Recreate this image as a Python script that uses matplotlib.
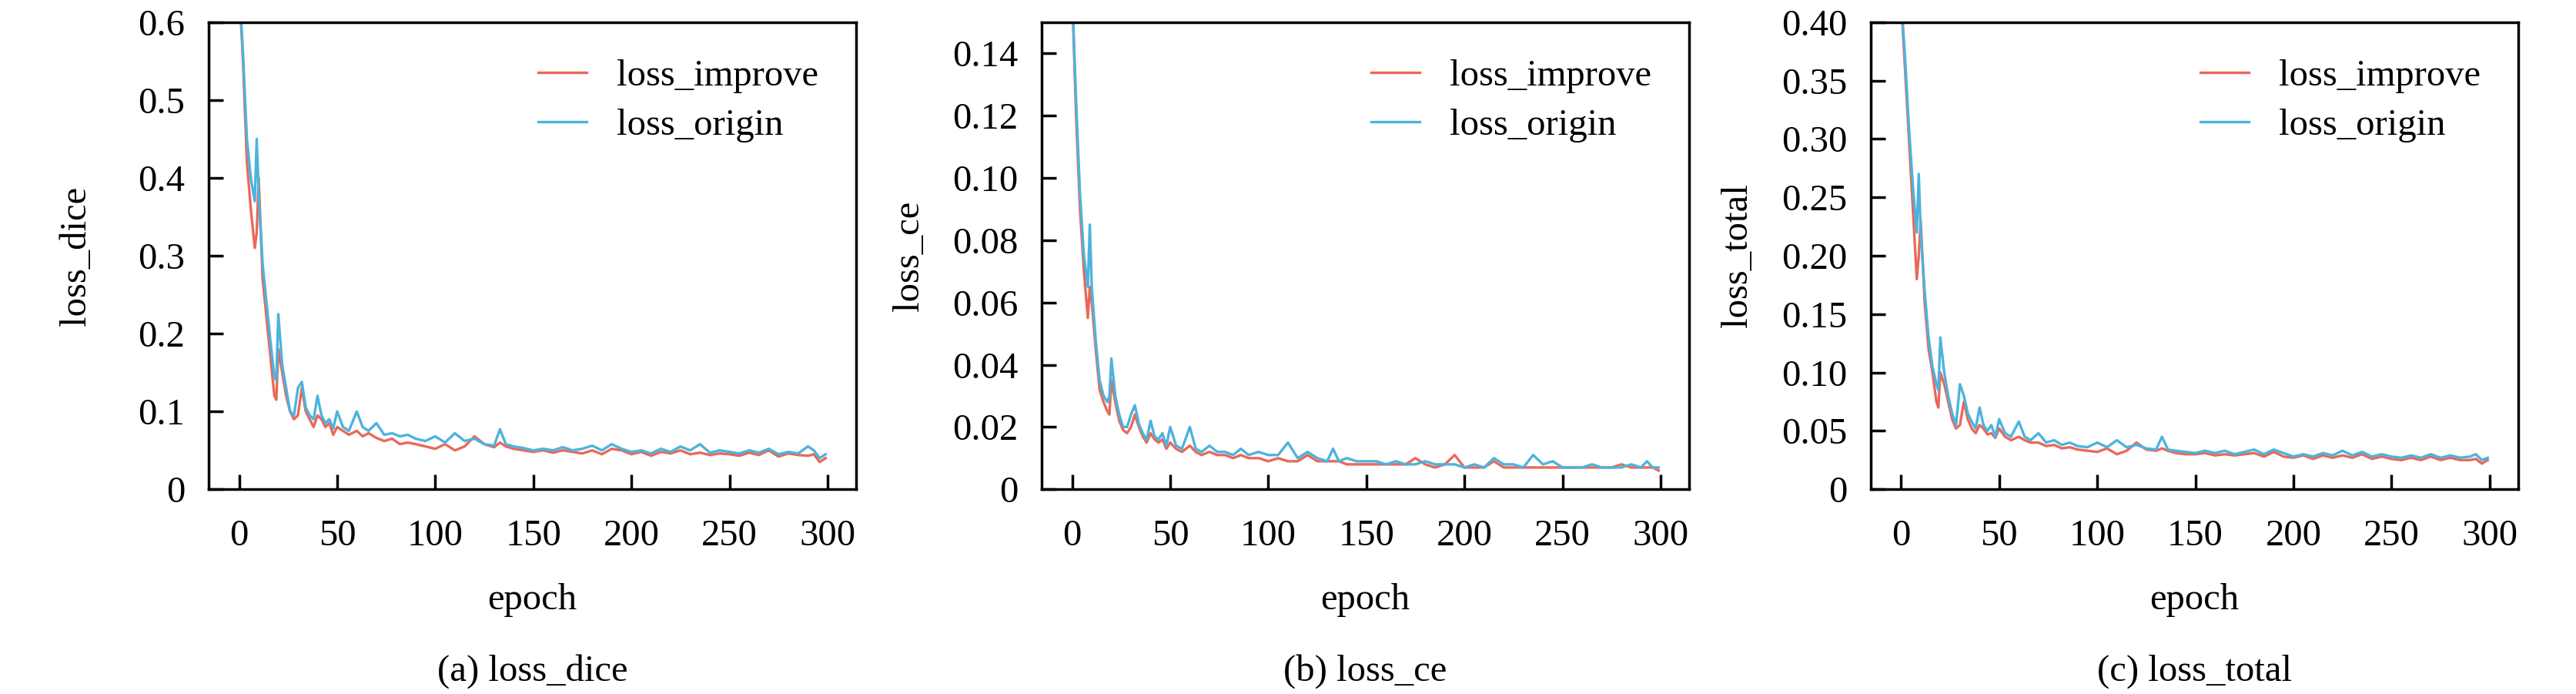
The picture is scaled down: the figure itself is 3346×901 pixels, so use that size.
import matplotlib.pyplot as plt

epochs = [0, 2, 4, 6, 8, 9, 10, 12, 14, 16,
          18, 19, 20, 22, 24, 26, 28, 30, 32, 34,
          36, 38, 40, 42, 44, 46, 48, 50, 53, 56,
          60, 63, 66, 70, 74, 78, 82, 86, 90, 95,
          100, 105, 110, 115, 120, 125, 130, 133, 136, 140,
          145, 150, 155, 160, 165, 170, 175, 180, 185, 190,
          195, 200, 205, 210, 215, 220, 225, 230, 235, 240,
          245, 250, 255, 260, 265, 270, 275, 280, 285, 290,
          293, 296, 299]

dice_improve = [0.65, 0.55, 0.42, 0.36, 0.31, 0.33, 0.40, 0.27, 0.22, 0.17,
                0.12, 0.115, 0.18, 0.15, 0.12, 0.10, 0.09, 0.095, 0.13, 0.10,
                0.09, 0.08, 0.095, 0.09, 0.08, 0.085, 0.07, 0.08, 0.075, 0.07,
                0.075, 0.068, 0.072, 0.066, 0.062, 0.065, 0.058, 0.06, 0.058, 0.055,
                0.052, 0.058, 0.05, 0.055, 0.068, 0.058, 0.054, 0.06, 0.055, 0.052,
                0.05, 0.048, 0.05, 0.047, 0.05, 0.048, 0.046, 0.05, 0.045, 0.052,
                0.05, 0.045, 0.048, 0.043, 0.048, 0.046, 0.05, 0.045, 0.047, 0.044,
                0.046, 0.045, 0.043, 0.047, 0.044, 0.05, 0.042, 0.046, 0.044, 0.043,
                0.045, 0.035, 0.04]
dice_origin = [0.65, 0.56, 0.45, 0.40, 0.37, 0.45, 0.38, 0.29, 0.24, 0.19,
               0.145, 0.14, 0.225, 0.16, 0.13, 0.10, 0.095, 0.13, 0.138, 0.105,
               0.095, 0.09, 0.12, 0.095, 0.085, 0.09, 0.078, 0.10, 0.08, 0.075,
               0.10, 0.08, 0.075, 0.085, 0.07, 0.072, 0.068, 0.07, 0.065, 0.062,
               0.068, 0.06, 0.072, 0.062, 0.065, 0.058, 0.056, 0.077, 0.058, 0.055,
               0.053, 0.05, 0.052, 0.05, 0.054, 0.05, 0.052, 0.056, 0.05, 0.058,
               0.052, 0.048, 0.05, 0.046, 0.052, 0.048, 0.055, 0.05, 0.058, 0.047,
               0.05, 0.048, 0.046, 0.05, 0.047, 0.052, 0.045, 0.048, 0.046, 0.055,
               0.05, 0.04, 0.045]

ce_improve = [0.16, 0.12, 0.09, 0.07, 0.055, 0.065, 0.06, 0.045, 0.032, 0.028,
              0.025, 0.024, 0.035, 0.028, 0.022, 0.019, 0.018, 0.02, 0.024, 0.02,
              0.017, 0.015, 0.018, 0.016, 0.015, 0.016, 0.013, 0.015, 0.013, 0.012,
              0.014, 0.012, 0.011, 0.012, 0.011, 0.011, 0.01, 0.011, 0.01, 0.01,
              0.009, 0.01, 0.009, 0.009, 0.011, 0.009, 0.009, 0.009, 0.009, 0.008,
              0.008, 0.008, 0.008, 0.008, 0.008, 0.008, 0.01, 0.008, 0.007, 0.008,
              0.011, 0.007, 0.007, 0.007, 0.009, 0.007, 0.007, 0.007, 0.007, 0.007,
              0.007, 0.007, 0.007, 0.007, 0.007, 0.007, 0.007, 0.008, 0.007, 0.007,
              0.007, 0.007, 0.006]
ce_origin = [0.16, 0.125, 0.095, 0.075, 0.065, 0.085, 0.065, 0.048, 0.035, 0.03,
             0.028, 0.03, 0.042, 0.03, 0.024, 0.02, 0.02, 0.024, 0.027, 0.021,
             0.018, 0.016, 0.022, 0.017, 0.016, 0.018, 0.014, 0.02, 0.014, 0.013,
             0.02, 0.013, 0.012, 0.014, 0.012, 0.012, 0.011, 0.013, 0.011, 0.012,
             0.011, 0.011, 0.015, 0.01, 0.012, 0.01, 0.009, 0.013, 0.009, 0.01,
             0.009, 0.009, 0.009, 0.008, 0.009, 0.008, 0.008, 0.009, 0.008, 0.008,
             0.008, 0.007, 0.008, 0.007, 0.01, 0.008, 0.008, 0.007, 0.011, 0.008,
             0.009, 0.007, 0.007, 0.007, 0.008, 0.007, 0.007, 0.007, 0.008, 0.007,
             0.009, 0.007, 0.007]

total_improve = [0.42, 0.36, 0.30, 0.24, 0.18, 0.20, 0.23, 0.16, 0.12, 0.10,
                 0.075, 0.07, 0.10, 0.09, 0.075, 0.06, 0.052, 0.055, 0.075, 0.06,
                 0.052, 0.048, 0.055, 0.052, 0.047, 0.048, 0.044, 0.052, 0.045, 0.042,
                 0.045, 0.042, 0.04, 0.04, 0.037, 0.038, 0.035, 0.036, 0.034, 0.033,
                 0.032, 0.035, 0.03, 0.033, 0.04, 0.034, 0.033, 0.035, 0.033, 0.031,
                 0.03, 0.03, 0.031, 0.029, 0.03, 0.029, 0.03, 0.031, 0.028, 0.032,
                 0.028, 0.027, 0.029, 0.026, 0.029, 0.027, 0.029, 0.027, 0.03, 0.026,
                 0.028, 0.026, 0.025, 0.027, 0.025, 0.028, 0.025, 0.027, 0.025, 0.025,
                 0.026, 0.022, 0.025]
total_origin = [0.42, 0.37, 0.31, 0.26, 0.22, 0.27, 0.22, 0.17, 0.13, 0.105,
                0.09, 0.085, 0.13, 0.1, 0.08, 0.065, 0.055, 0.09, 0.08, 0.065,
                0.058, 0.052, 0.07, 0.055, 0.05, 0.055, 0.045, 0.06, 0.048, 0.045,
                0.058, 0.045, 0.042, 0.048, 0.04, 0.042, 0.038, 0.04, 0.037, 0.036,
                0.04, 0.036, 0.042, 0.036, 0.038, 0.035, 0.034, 0.045, 0.034, 0.033,
                0.032, 0.031, 0.033, 0.031, 0.033, 0.03, 0.032, 0.034, 0.03, 0.034,
                0.031, 0.028, 0.03, 0.028, 0.031, 0.029, 0.033, 0.029, 0.032, 0.028,
                0.03, 0.028, 0.027, 0.029, 0.027, 0.03, 0.027, 0.029, 0.027, 0.028,
                0.03, 0.025, 0.027]

panels = [
    ("loss_dice", "(a) loss_dice", dice_improve, dice_origin, 0.6,
     [0, 0.1, 0.2, 0.3, 0.4, 0.5, 0.6], ["0", "0.1", "0.2", "0.3", "0.4", "0.5", "0.6"]),
    ("loss_ce", "(b) loss_ce", ce_improve, ce_origin, 0.15,
     [0, 0.02, 0.04, 0.06, 0.08, 0.10, 0.12, 0.14],
     ["0", "0.02", "0.04", "0.06", "0.08", "0.10", "0.12", "0.14"]),
    ("loss_total", "(c) loss_total", total_improve, total_origin, 0.4,
     [0, 0.05, 0.10, 0.15, 0.20, 0.25, 0.30, 0.35, 0.40],
     ["0", "0.05", "0.10", "0.15", "0.20", "0.25", "0.30", "0.35", "0.40"]),
]

plt.rcParams["font.family"] = "Liberation Serif"
plt.rcParams["font.size"] = 35

fig = plt.figure(figsize=(33.46, 9.01), dpi=100)
lefts = [0.081, 0.4044, 0.7262]

for left, (ylab, caption, imp, ori, ytop, yt, ytl) in zip(lefts, panels):
    ax = fig.add_axes([left, 0.295, 0.2513, 0.673])
    ax.plot(epochs, imp, color="#E8695A", lw=2.4, label="loss_improve")
    ax.plot(epochs, ori, color="#4DB3DC", lw=2.4, label="loss_origin")
    ax.set_xlim(-15.5, 314.5)
    ax.set_ylim(0, ytop)
    ax.set_xticks([0, 50, 100, 150, 200, 250, 300])
    ax.set_yticks(yt)
    ax.set_yticklabels(ytl)
    ax.tick_params(direction="in", length=14, width=2.5, pad=22)
    ax.tick_params(axis="x", pad=28)
    for s in ax.spines.values():
        s.set_linewidth(2.5)
    ax.set_ylabel(ylab)
    ax.yaxis.label.set_va("center")
    ax.yaxis.set_label_coords(-0.205, 0.5)
    ax.set_xlabel("epoch", labelpad=28)
    ax.legend(loc="upper right", frameon=False, handlelength=1.3, handletextpad=0.8,
              borderaxespad=0.6, labelspacing=0.4)
    ax.text(0.5, -0.39, caption, transform=ax.transAxes, ha="center", va="center")

fig.savefig("out.png", dpi=100)
